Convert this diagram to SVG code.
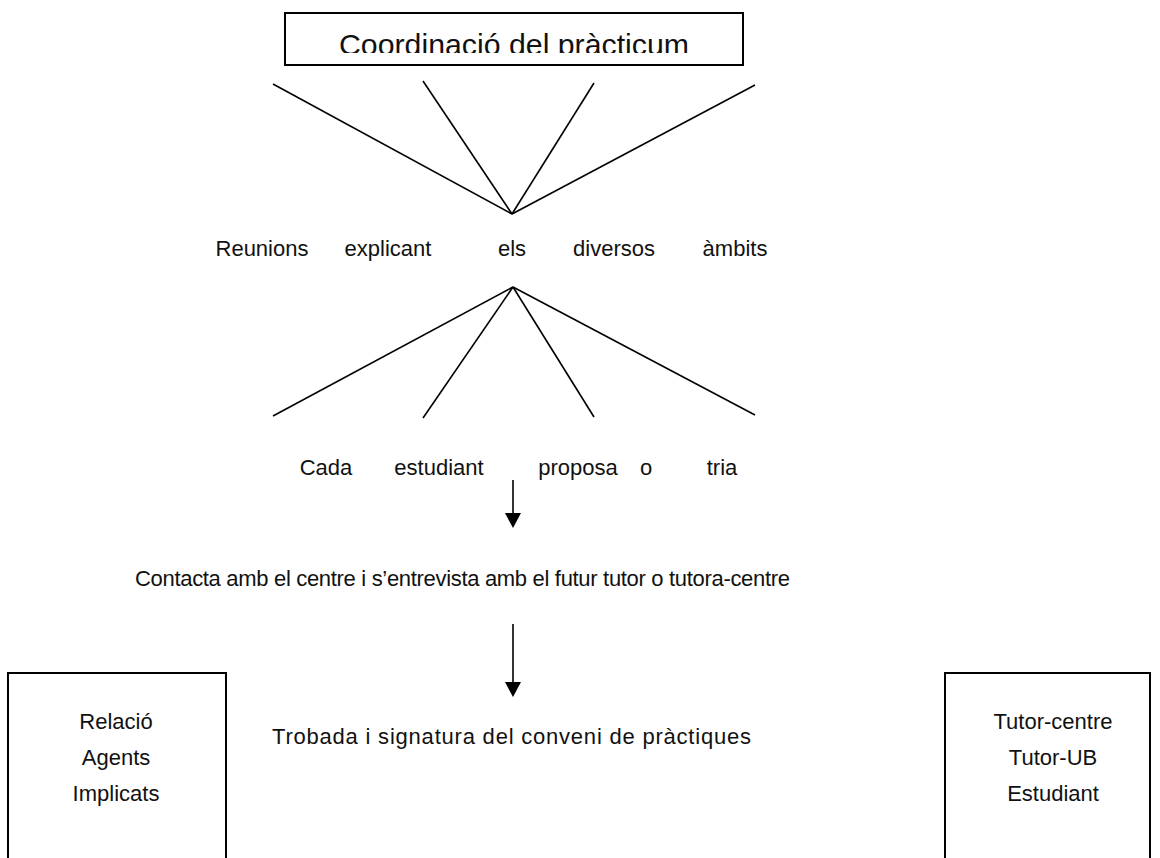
<svg xmlns="http://www.w3.org/2000/svg" width="1160" height="858" viewBox="0 0 1160 858">
<style>
text{font-family:"Liberation Sans",Arial,sans-serif;fill:#111;font-size:22px}
.title{font-size:30px}
.c{text-anchor:middle}
.ln{stroke:#000;stroke-width:1.6;fill:none}
.bx{stroke:#000;stroke-width:2;fill:none}
</style>
<defs>
<clipPath id="tclip"><rect x="283" y="14" width="459" height="39"/></clipPath>
</defs>
<rect width="1160" height="858" fill="#fff"/>
<g id="coord">
<rect class="bx" x="285" y="13" width="458" height="52"/>
<text class="title" x="339" y="55" textLength="350" lengthAdjust="spacingAndGlyphs" clip-path="url(#tclip)">Coordinació del pràcticum</text>
</g>
<g id="reunions">
<text class="c" x="262" y="256">Reunions</text>
<text class="c" x="388" y="256">explicant</text>
<text class="c" x="512" y="256">els</text>
<text class="c" x="614" y="256">diversos</text>
<text class="c" x="735" y="256">àmbits</text>
</g>
<g id="cada">
<text class="c" x="326" y="475">Cada</text>
<text class="c" x="439" y="475">estudiant</text>
<text class="c" x="578" y="475">proposa</text>
<text class="c" x="646" y="475">o</text>
<text class="c" x="722" y="475">tria</text>
</g>
<g id="contacta">
<text x="135" y="586" textLength="655" lengthAdjust="spacing">Contacta amb el centre i s’entrevista amb el futur tutor o tutora-centre</text>
</g>
<g id="trobada">
<text x="272" y="744" textLength="479" lengthAdjust="spacing">Trobada i signatura del conveni de pràctiques</text>
</g>
<g id="relacio">
<path class="bx" d="M8,860 V673 H226 V860"/>
<text class="c" x="116" y="729">Relació</text>
<text class="c" x="116" y="765">Agents</text>
<text class="c" x="116" y="801">Implicats</text>
</g>
<g id="tutors">
<path class="bx" d="M945,860 V673 H1150 V860"/>
<text class="c" x="1053" y="729">Tutor-centre</text>
<text class="c" x="1053" y="765">Tutor-UB</text>
<text class="c" x="1053" y="801">Estudiant</text>
</g>
<g id="connectors">
<line class="ln" x1="273" y1="84" x2="512" y2="214"/>
<line class="ln" x1="423" y1="81" x2="512" y2="214"/>
<line class="ln" x1="594" y1="83" x2="512" y2="214"/>
<line class="ln" x1="755" y1="85" x2="512" y2="214"/>
<line class="ln" x1="513" y1="287" x2="273" y2="416"/>
<line class="ln" x1="513" y1="287" x2="423" y2="418"/>
<line class="ln" x1="513" y1="287" x2="594" y2="417"/>
<line class="ln" x1="513" y1="287" x2="755" y2="415"/>
<line class="ln" x1="513" y1="480" x2="513" y2="514"/>
<polygon points="505,513 521,513 513,528" fill="#000"/>
<line class="ln" x1="513" y1="624" x2="513" y2="683"/>
<polygon points="505,682 521,682 513,697" fill="#000"/>
</g>
</svg>
